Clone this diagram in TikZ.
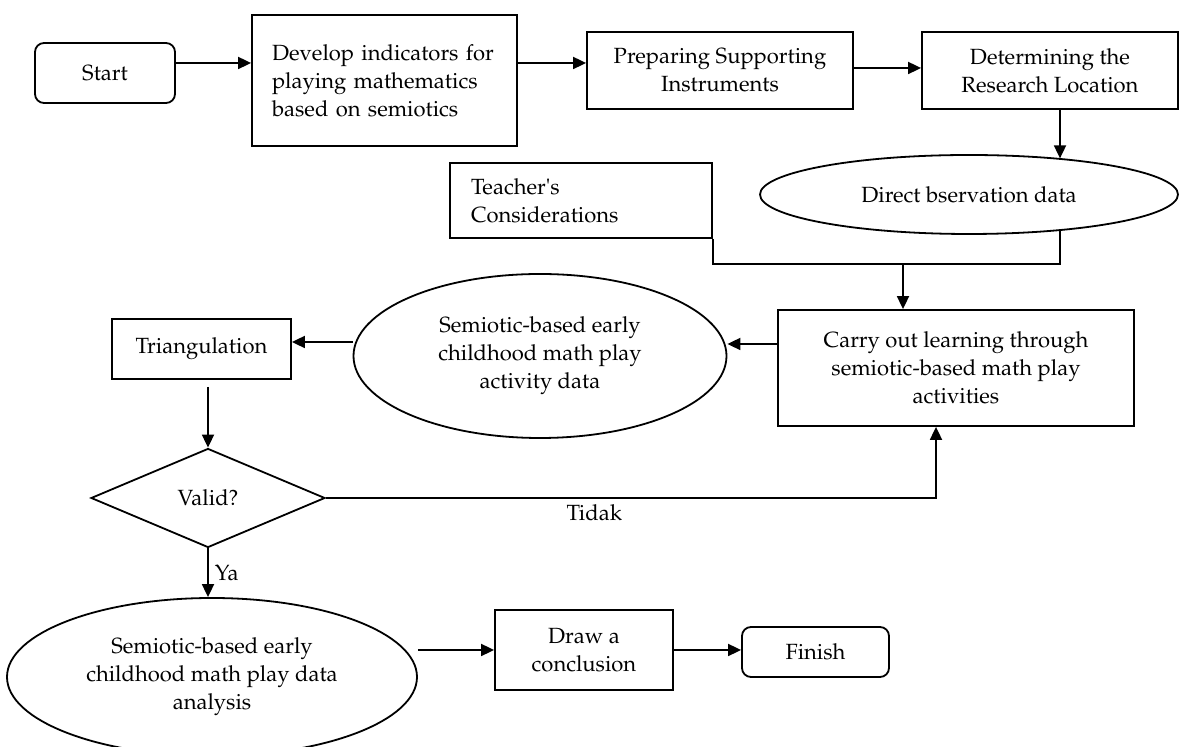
\documentclass[tikz,border=0pt]{standalone}
\usepackage[T1]{fontenc}
\usepackage{mathpazo}
\usepackage{tikz}
\usetikzlibrary{calc,arrows.meta,shapes.geometric}
\newcommand{\flowfont}{\fontsize{11}{14}\selectfont}
\tikzset{
  proc/.style={draw=black, line width=0.9pt, rectangle, inner sep=2pt, align=center, font=\flowfont},
  term/.style={proc, rounded corners=4.5pt},
  io/.style={draw=black, line width=0.9pt, ellipse, inner sep=0pt, align=center, font=\flowfont},
  dec/.style={draw=black, line width=0.9pt, diamond, inner sep=0pt, font=\flowfont},
  arr/.style={draw=black, line width=0.9pt, -{Triangle[length=6.5pt,width=6pt]}},
  link/.style={draw=black, line width=0.8pt},
  lbl/.style={font=\flowfont, inner sep=3pt},
}

\begin{document}
\begin{tikzpicture}[x=0.5pt,y=-0.5pt]
  \path[use as bounding box, fill=white] (0,0) rectangle (1179,747);
  \node[term, minimum width=70pt, minimum height=30pt] (start) at (105,73) {Start};
  \node[proc, minimum width=132.5pt, minimum height=65.5pt, text width=112.5pt, align=left] (develop) at (384.5,80.5) {Develop indicators for\\playing mathematics\\based on semiotics};
  \node[proc, minimum width=133pt, minimum height=38.5pt] (prep) at (720,70.5) {Preparing Supporting\\Instruments};
  \node[proc, minimum width=128pt, minimum height=38.5pt] (determ) at (1050,70.5) {Determining the\\Research Location};
  \node[io, minimum width=209pt, minimum height=39.5pt] (direct) at (969,194.5) {Direct bservation data};
  \node[proc, minimum width=131pt, minimum height=37.5pt, text width=110pt, align=left] (teacher) at (581,200.5) {Teacher\textquotesingle s\\Considerations};
  \node[proc, minimum width=178pt, minimum height=58pt] (carry) at (956,368) {Carry out learning through\\semiotic-based math play\\activities};
  \node[io, minimum width=186.5pt, minimum height=82pt] (activity) at (540,356) {Semiotic-based early\\childhood math play\\activity data};
  \node[proc, minimum width=89.5pt, minimum height=30pt] (triang) at (201.5,349) {Triangulation};
  \node[dec, minimum width=117pt, minimum height=49.5pt] (valid) at (208,498) {Valid?};
  \node[io, minimum width=205pt, minimum height=79pt] (analysis) at (212,677) {Semiotic-based early\\childhood math play data\\analysis};
  \node[proc, minimum width=89pt, minimum height=40pt] (concl) at (584,650) {Draw a\\conclusion};
  \node[term, minimum width=73.5pt, minimum height=25pt] (finish) at (815.5,652) {Finish};

  \coordinate (s1) at ($(start.east)+(0,-10)$);
  \draw[arr] (s1) -- (s1 -| develop.west);
  \coordinate (d1) at ($(develop.east)+(0,-17.5)$);
  \draw[arr] (d1) -- (d1 -| prep.west);
  \coordinate (p1) at ($(prep.east)+(0,-2.5)$);
  \draw[arr] (p1) -- (p1 -| determ.west);
  \coordinate (r1) at ($(determ.south)+(10,0)$);
  \draw[arr] (r1) -- (r1 |- direct.21);
  \coordinate (m1) at ($(teacher.south east)+(0,25)$);
  \draw[link] (teacher.south east) -- (m1) -| (r1 |- direct.-21);
  \coordinate (j1) at ($(carry.north)+(-53,0)$);
  \draw[arr] (j1 |- m1) -- (j1);
  \coordinate (c1) at ($(carry.west)+(0,-24)$);
  \draw[arr] (c1) -- (c1 -| activity.east);
  \coordinate (a1) at ($(activity.west)+(0,-14)$);
  \draw[arr] (a1) -- (a1 -| triang.east);
  \draw[arr] ($(triang.south -| valid.north)+(0,7)$) -- (valid.north);
  \coordinate (t1) at ($(carry.south)+(-20,0)$);
  \draw[arr] (valid.east) -| node[lbl, pos=0.22, below] {Tidak} (t1);
  \draw[arr] (valid.south) -- node[lbl, right] {Ya} (valid.south |- analysis.north);
  \draw[arr] (analysis.east |- concl.west) -- (concl.west);
  \draw[arr] (concl.east) -- (concl.east -| finish.west);
\end{tikzpicture}
\end{document}
